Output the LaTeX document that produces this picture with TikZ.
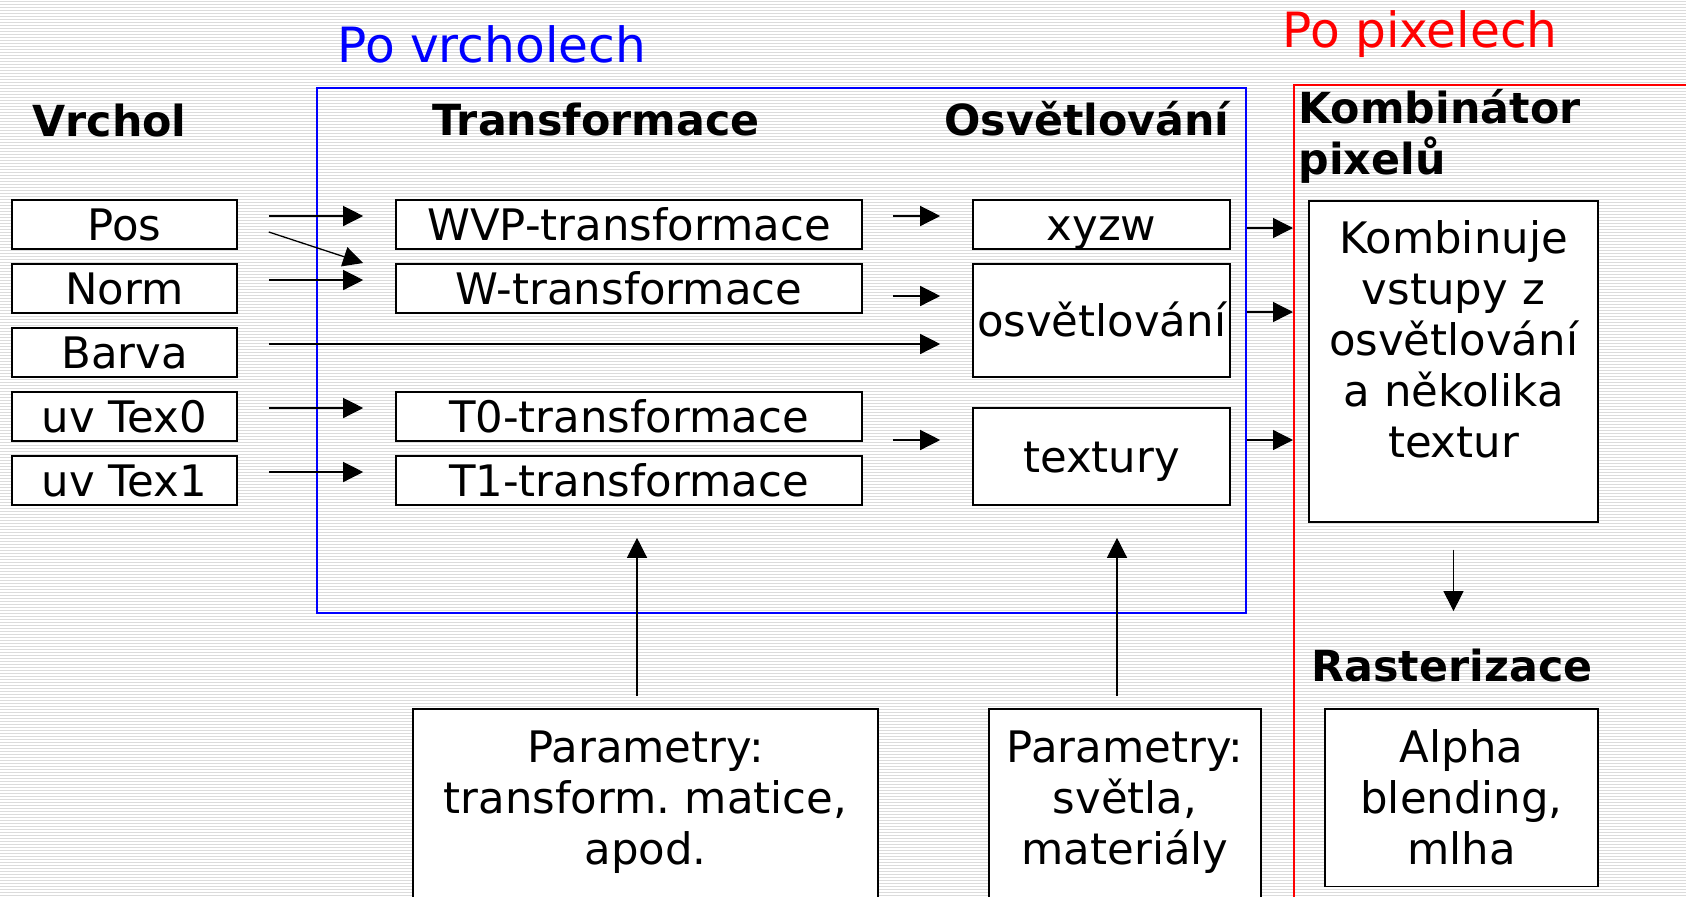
\documentclass[tikz,border=0pt]{standalone}
\usepackage{fontspec}
\setmainfont{DejaVu Sans}
\usetikzlibrary{arrows.meta,calc}
\frenchspacing

\begin{document}
\begin{tikzpicture}[x=0.5pt, y=-0.5pt, >={Triangle[length=10pt,width=10pt]},
    font=\fontsize{21.7}{25.5}\selectfont,
    box/.style={rectangle, draw=black, fill=white, line width=0.8pt},
    attr/.style={box, minimum width=112.5pt, minimum height=24.5pt,
                 text height=15.8pt, text depth=0pt, inner sep=0pt},
    stage/.style={attr, minimum width=233pt},
    unit/.style={attr, minimum width=128.5pt},
    tall/.style={box, anchor=north, align=center, inner xsep=0pt, inner ysep=10.5pt},
    head/.style={font=\fontsize{21.4}{25.5}\selectfont\bfseries, inner sep=0pt, anchor=base west},
    zone/.style={font=\fontsize{24.3}{29}\selectfont, inner sep=0pt, anchor=base west},
    frame/.style={rectangle, line width=0.75pt, inner sep=0pt},
    stripe/.style={line width=0.5pt, black!14}]

% Striped slide background
\fill[white] (0,0) rectangle (1686,896);
\useasboundingbox (0,0) rectangle (1686,896);
\foreach \yy in {1,4,...,895}
  \draw[stripe] (0,\yy) -- (1686,\yy);

% Per-vertex and per-pixel zones
\node[frame, draw=blue, minimum width=464.5pt, minimum height=262.5pt] (vtx) at (781.5, 350.5) {};
\node[frame, draw=red, anchor=north west, minimum width=210pt, minimum height=420pt] (pix) at (1293, 84) {};
\node[zone, text=blue] (tvrch) at (337, 62) {Po vrcholech};
\node[zone, text=red]  (tpix)  at (1282, 47) {Po pixelech};

% Column headings
\node[head] (hvrch)  at (32, 136)  {Vrchol};
\node[head] (htrans) at (432, 135) {Transformace};
\node[head] (hosv)   at (944, 135) {Osvětlování};
\node[head, text width=150pt, align=left] (hkomb) at (1298, 123) {Kombinátor\\pixelů};
\node[head, anchor=base] (hrast) at (1452, 681) {Rasterizace};

% Vertex attributes
\node[attr] (pos)   at (124.5, 224.5) {Pos};
\node[attr] (norm)  at (124.5, 288.5) {Norm};
\node[attr] (barva) at (124.5, 352.5) {Barva};
\node[attr] (texA)  at (124.5, 416.5) {uv Tex0};
\node[attr] (texB)  at (124.5, 480.5) {uv Tex1};

% Transformations
\node[stage] (wvp)   at (629, 224.5) {WVP-transformace};
\node[stage] (wtr)   at (629, 288.5) {W-transformace};
\node[stage] (tzero) at (629, 416.5) {T0-transformace};
\node[stage] (tone)  at (629, 480.5) {T1-transformace};

% Lighting
\node[unit] (xyzw) at (1101.5, 224.5) {xyzw};
\node[unit, minimum height=56.5pt] (osv)     at (1101.5, 320.5) {osvětlování};
\node[unit, minimum height=48.5pt] (textury) at (1101.5, 456.5) {textury};

% Pixel combiner and rasterizer
\node[tall, text width=144.5pt, text depth=124pt, inner ysep=10pt] (komb) at (1453.5, 200)
  {Kombinuje\\vstupy z\\osvětlování\\a několika\\textur};
\node[tall, text width=136.5pt] (alpha) at (1461.5, 708) {Alpha\\blending,\\mlha};

% Parameters (boxes run off the bottom edge)
\node[tall, text width=232.5pt, text depth=100pt, inner ysep=11.2pt] (parA) at (645.5, 708)
  {Parametry:\\transform. matice,\\apod.};
\node[tall, text width=136pt, text depth=100pt, inner ysep=11.2pt] (parB) at (1125, 708)
  {Parametry:\\světla,\\materiály};

% Attributes into the transformations
\draw[->, line width=0.65pt] ($(pos.east)+(31,-8.5)$) -- ($(wvp.west)+(-32,-8.5)$);
\draw[->, line width=0.65pt] ($(pos.east)+(31,7.5)$) -- ($(wtr.west)+(-32,-25.5)$);
\draw[->, line width=0.65pt] ($(norm.east)+(31,-8.5)$) -- ($(wtr.west)+(-32,-8.5)$);
\draw[->, line width=0.65pt] ($(barva.east)+(31,-8.5)$) -- ($(barva.east -| osv.west)+(-32,-8.5)$);
\draw[->, line width=0.65pt] ($(texA.east)+(31,-8.5)$) -- ($(tzero.west)+(-32,-8.5)$);
\draw[->, line width=0.65pt] ($(texB.east)+(31,-8.5)$) -- ($(tone.west)+(-32,-8.5)$);

% Transformations into lighting
\draw[->, line width=0.65pt] ($(wvp.east)+(30,-8.5)$) -- ($(xyzw.west)+(-32,-8.5)$);
\draw[->, line width=0.65pt] ($(wtr.east)+(30,7.5)$) -- ($(wtr.east -| osv.west)+(-32,7.5)$);
\draw[->, line width=0.65pt] ($(tzero.east)+(30,23.5)$) -- ($(tzero.east -| textury.west)+(-32,23.5)$);

% Vertex results cross into the pixel zone
\draw[->, line width=0.65pt] ($(xyzw.east -| vtx.east)+(0,3.5)$) -- ($(xyzw.east -| pix.west)+(0,3.5)$);
\draw[->, line width=0.65pt] ($(osv.east -| vtx.east)+(0,-8.5)$) -- ($(osv.east -| pix.west)+(0,-8.5)$);
\draw[->, line width=0.65pt] ($(textury.east -| vtx.east)+(0,-16.5)$) -- ($(textury.east -| pix.west)+(0,-16.5)$);

% Parameters feed upwards
\draw[->, line width=0.65pt] ($(parA.north)+(-8.5,-12)$) -- ($(parA.north |- tone.south)+(-8.5,32)$);
\draw[->, line width=0.65pt] ($(parB.north)+(-8,-12)$) -- ($(parB.north |- textury.south)+(-8,32)$);

% Combiner down to rasterization
\draw[->, line width=0.65pt] ($(komb.south)+(0,27)$) -- ($(komb.south |- hrast.north)+(0,-37)$);

\end{tikzpicture}
\end{document}
